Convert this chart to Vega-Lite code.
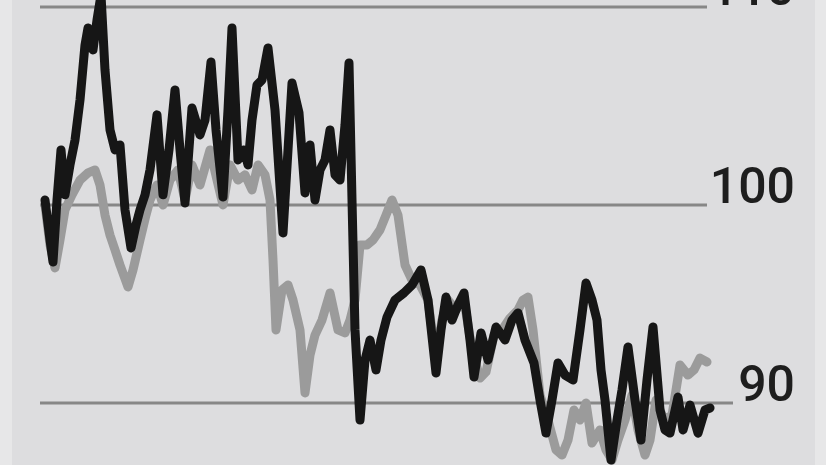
{
  "$schema": "https://vega.github.io/schema/vega-lite/v6.json",
  "width": 826,
  "height": 465,
  "autosize": "none",
  "padding": 0,
  "background": "#dddddf",
  "config": {"view": {"stroke": null, "fill": "#dddddf"}},
  "datasets": {
    "black": [
      {"day":0,"v":100.25},{"day":5,"v":98.23},{"day":8,"v":97.12},{"day":12,"v":100.25},{"day":16,"v":102.78},
      {"day":20,"v":100.51},{"day":25,"v":102.02},{"day":30,"v":103.28},{"day":35,"v":105.3},{"day":40,"v":108.08},
      {"day":43,"v":108.94},{"day":48,"v":107.83},{"day":52,"v":109.34},{"day":56,"v":110.6},{"day":60,"v":106.82},
      {"day":65,"v":103.79},{"day":70,"v":102.78},{"day":75,"v":103.03},{"day":80,"v":99.75},{"day":86,"v":97.83},
      {"day":91,"v":98.99},{"day":95,"v":99.75},{"day":100,"v":100.51},{"day":105,"v":101.77},{"day":112,"v":104.55},
      {"day":118,"v":100.51},{"day":124,"v":102.78},{"day":130,"v":105.81},{"day":135,"v":102.78},{"day":140,"v":100.1},
      {"day":147,"v":104.9},{"day":155,"v":103.54},{"day":160,"v":104.29},{"day":166,"v":107.22},{"day":171,"v":103.79},
      {"day":178,"v":100.4},{"day":183,"v":104.8},{"day":187,"v":108.94},{"day":193,"v":102.27},{"day":199,"v":102.78},
      {"day":203,"v":102.02},{"day":207,"v":104.29},{"day":212,"v":106.06},{"day":217,"v":106.31},{"day":223,"v":107.93},
      {"day":230,"v":104.8},{"day":238,"v":98.59},{"day":243,"v":102.78},{"day":247,"v":106.16},{"day":254,"v":104.65},
      {"day":260,"v":100.61},{"day":265,"v":103.03},{"day":270,"v":100.25},{"day":275,"v":101.77},{"day":280,"v":102.27},
      {"day":285,"v":103.79},{"day":290,"v":101.52},{"day":295,"v":101.26},{"day":300,"v":104.04},{"day":304,"v":107.17},
      {"day":307,"v":100.25},{"day":310,"v":93.69},{"day":315,"v":89.14},{"day":320,"v":92.17},{"day":325,"v":93.18},
      {"day":331,"v":91.67},{"day":336,"v":93.18},{"day":342,"v":94.34},{"day":350,"v":95.2},{"day":359,"v":95.56},
      {"day":367,"v":95.96},{"day":376,"v":96.72},{"day":383,"v":95.2},{"day":391,"v":91.52},{"day":396,"v":93.69},
      {"day":401,"v":95.35},{"day":407,"v":94.19},{"day":413,"v":94.95},{"day":419,"v":95.56},{"day":425,"v":93.18},
      {"day":429,"v":91.31},{"day":436,"v":93.54},{"day":443,"v":92.17},{"day":451,"v":93.84},{"day":460,"v":93.18},
      {"day":467,"v":94.19},{"day":473,"v":94.55},{"day":480,"v":93.18},{"day":489,"v":92.02},{"day":495,"v":90.15},
      {"day":501,"v":88.48},{"day":507,"v":90.15},{"day":513,"v":92.02},{"day":520,"v":91.41},{"day":528,"v":91.16},
      {"day":535,"v":93.69},{"day":541,"v":96.06},{"day":547,"v":95.2},{"day":552,"v":94.19},{"day":556,"v":91.67},
      {"day":560,"v":90.15},{"day":566,"v":87.12},{"day":572,"v":89.14},{"day":577,"v":90.66},{"day":583,"v":92.83},
      {"day":590,"v":90.15},{"day":596,"v":88.13},{"day":602,"v":91.16},{"day":608,"v":93.84},{"day":615,"v":89.65},
      {"day":620,"v":88.64},{"day":625,"v":88.48},{"day":633,"v":90.3},{"day":638,"v":88.64},{"day":645,"v":89.9},
      {"day":653,"v":88.48},{"day":660,"v":89.65},{"day":665,"v":89.75}
    ],
    "grey": [
      {"day":0,"v":100.0},{"day":5,"v":97.98},{"day":10,"v":96.82},{"day":15,"v":98.23},{"day":20,"v":99.75},
      {"day":27,"v":100.51},{"day":35,"v":101.26},{"day":43,"v":101.62},{"day":50,"v":101.77},{"day":55,"v":101.01},
      {"day":60,"v":99.49},{"day":65,"v":98.48},{"day":70,"v":97.73},{"day":75,"v":96.97},{"day":83,"v":95.86},
      {"day":88,"v":96.72},{"day":95,"v":98.23},{"day":101,"v":99.49},{"day":105,"v":100.25},{"day":112,"v":101.01},
      {"day":118,"v":100.0},{"day":125,"v":101.26},{"day":133,"v":101.77},{"day":140,"v":100.25},{"day":147,"v":102.02},
      {"day":155,"v":101.01},{"day":165,"v":102.78},{"day":172,"v":101.26},{"day":178,"v":100.0},{"day":185,"v":102.02},
      {"day":193,"v":101.26},{"day":200,"v":101.52},{"day":207,"v":100.76},{"day":213,"v":102.02},{"day":220,"v":101.52},
      {"day":225,"v":100.25},{"day":228,"v":97.22},{"day":231,"v":93.69},{"day":237,"v":95.71},{"day":243,"v":95.96},
      {"day":248,"v":95.2},{"day":255,"v":93.69},{"day":260,"v":90.51},{"day":265,"v":92.42},{"day":270,"v":93.43},
      {"day":277,"v":94.19},{"day":285,"v":95.56},{"day":293,"v":93.69},{"day":300,"v":93.54},{"day":305,"v":94.19},
      {"day":310,"v":95.2},{"day":315,"v":97.98},{"day":322,"v":97.98},{"day":328,"v":98.23},{"day":335,"v":98.74},
      {"day":341,"v":99.49},{"day":347,"v":100.25},{"day":353,"v":99.49},{"day":360,"v":96.97},{"day":367,"v":96.21},
      {"day":375,"v":95.96},{"day":383,"v":95.2},{"day":391,"v":92.17},{"day":397,"v":94.19},{"day":403,"v":95.2},
      {"day":411,"v":94.7},{"day":419,"v":95.2},{"day":427,"v":92.68},{"day":435,"v":91.26},{"day":441,"v":91.57},
      {"day":449,"v":93.43},{"day":457,"v":93.69},{"day":465,"v":94.29},{"day":473,"v":94.7},{"day":478,"v":95.2},
      {"day":483,"v":95.35},{"day":488,"v":93.69},{"day":495,"v":90.4},{"day":503,"v":89.14},{"day":511,"v":87.63},
      {"day":517,"v":87.37},{"day":523,"v":88.13},{"day":529,"v":89.65},{"day":535,"v":89.14},{"day":541,"v":90.0},
      {"day":547,"v":87.98},{"day":555,"v":88.64},{"day":561,"v":87.63},{"day":567,"v":87.12},{"day":573,"v":88.13},
      {"day":580,"v":89.14},{"day":587,"v":90.4},{"day":593,"v":88.64},{"day":600,"v":87.37},{"day":605,"v":88.13},
      {"day":611,"v":90.15},{"day":619,"v":89.14},{"day":627,"v":89.39},{"day":635,"v":91.92},{"day":643,"v":91.41},
      {"day":649,"v":91.67},{"day":655,"v":92.27},{"day":662,"v":92.07}
    ],
    "grid": [
      {"v":110,"start":-5,"end":662,"label":"110"},
      {"v":100,"start":-5,"end":662,"label":"100"},
      {"v":90,"start":-5,"end":688,"label":"90"}
    ],
    "frame": [
      {"a":-45,"b":-33},
      {"a":770,"b":781}
    ]
  },
  "encoding": {
    "x": {"type": "quantitative"},
    "y": {"type": "quantitative"}
  },
  "layer": [
    {
      "data": {"name": "frame"},
      "mark": {"type": "rect", "color": "#e7e7e8"},
      "encoding": {
        "x": {"field": "a", "type": "quantitative", "scale": {"domain": [-45, 781], "nice": false, "zero": false}, "axis": null},
        "x2": {"field": "b"},
        "y": {"value": 0},
        "y2": {"value": 465}
      }
    },
    {
      "data": {"name": "grid"},
      "mark": {"type": "rule", "color": "#878787", "strokeWidth": 3},
      "encoding": {
        "x": {"field": "start", "type": "quantitative", "scale": {"domain": [-45, 781], "nice": false, "zero": false}, "axis": null},
        "x2": {"field": "end"},
        "y": {"field": "v", "type": "quantitative", "scale": {"domain": [86.87, 110.35], "nice": false, "zero": false}, "axis": null}
      }
    },
    {
      "data": {"name": "grid"},
      "mark": {"type": "text", "align": "right", "baseline": "alphabetic", "dy": -2, "font": "Roboto", "fontSize": 50, "fontWeight": 500, "color": "#1e1e1e"},
      "encoding": {
        "x": {"datum": 750, "type": "quantitative", "scale": {"domain": [-45, 781], "nice": false, "zero": false}, "axis": null},
        "y": {"field": "v", "type": "quantitative", "scale": {"domain": [86.87, 110.35], "nice": false, "zero": false}, "axis": null},
        "text": {"field": "label"}
      }
    },
    {
      "data": {"name": "grey"},
      "mark": {"type": "line", "color": "#9b9b9b", "strokeWidth": 9, "strokeJoin": "round", "strokeCap": "round"},
      "encoding": {
        "x": {"field": "day", "type": "quantitative", "scale": {"domain": [-45, 781], "nice": false, "zero": false}, "axis": null},
        "y": {"field": "v", "type": "quantitative", "scale": {"domain": [86.87, 110.35], "nice": false, "zero": false}, "axis": null}
      }
    },
    {
      "data": {"name": "black"},
      "mark": {"type": "line", "color": "#161616", "strokeWidth": 9, "strokeJoin": "round", "strokeCap": "round"},
      "encoding": {
        "x": {"field": "day", "type": "quantitative", "scale": {"domain": [-45, 781], "nice": false, "zero": false}, "axis": null},
        "y": {"field": "v", "type": "quantitative", "scale": {"domain": [86.87, 110.35], "nice": false, "zero": false}, "axis": null}
      }
    }
  ]
}
